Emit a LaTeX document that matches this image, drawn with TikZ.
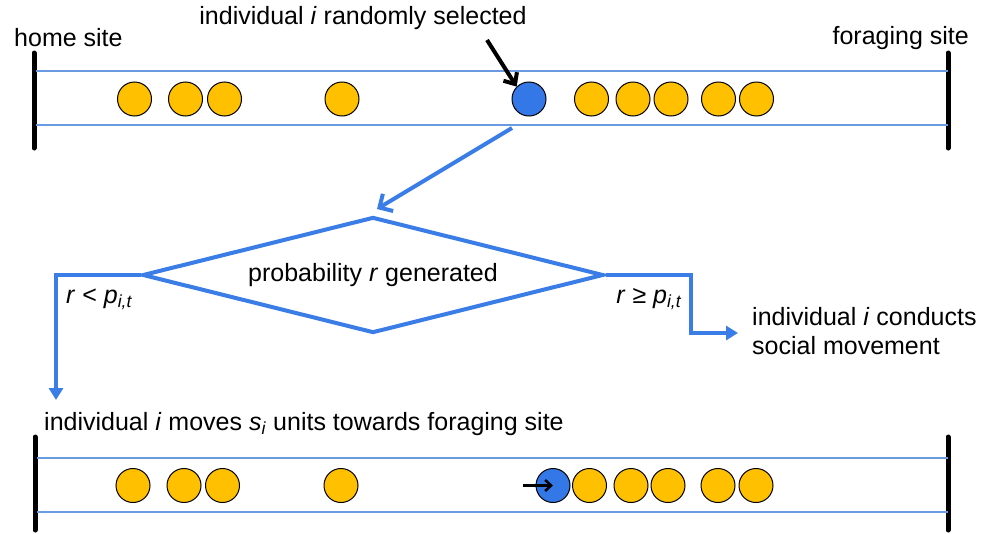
\documentclass[tikz,border=0pt]{standalone}
\usepackage{fontspec}
\setmainfont{Liberation Sans}
\usetikzlibrary{shapes.geometric,arrows.meta}
\definecolor{ylw}{HTML}{FFC000}
\definecolor{bluefill}{HTML}{3478E8}
\definecolor{lineblue}{HTML}{6A9BE0}
\definecolor{flowblue}{HTML}{3A7DE6}
\begin{document}
\begin{tikzpicture}[x=1pt,y=-1pt,
  every node/.style={font=\fontsize{25}{29}\selectfont},
  agent/.style={circle,draw=black,line width=1pt,fill=ylw,minimum size=34pt,inner sep=0},
  chosen/.style={agent,fill=bluefill},
  sitebar/.style={line width=5pt,line cap=round},
  lane/.style={draw=lineblue,line width=1.5pt},
  flow/.style={draw=flowblue,line width=4pt,line join=miter},
  txt/.style={inner sep=0}]
\useasboundingbox (0,0) rectangle (993,533);
% ---------- top lane ----------
\draw[sitebar] (34,53) -- (34,148);
\draw[sitebar] (948,53) -- (948,148);
\draw[lane] (36,71) -- (948,71);
\draw[lane] (36,125) -- (948,125);
\node[agent] (t1) at (134.5,99) {};
\node[agent] (t2) at (185.5,99) {};
\node[agent] (t3) at (224.5,99) {};
\node[agent] (t4) at (342,99) {};
\node[chosen] (tb) at (529,99) {};
\node[agent] (t5) at (591.5,99) {};
\node[agent] (t6) at (633,99) {};
\node[agent] (t7) at (671,99) {};
\node[agent] (t8) at (718.5,99) {};
\node[agent] (t9) at (756.5,99) {};
\node[txt,anchor=west] (home) at (14,38) {home site};
\node[txt,anchor=east] (forage) at (969,38) {foraging site};
\node[txt] (title) at (363,18) {individual \textit{i} randomly selected};
\coordinate (selstart) at (487,40);
\draw[line width=4pt,-{Straight Barb[length=9pt,width=16pt]}] (selstart) -- (tb.north west);
% ---------- decision ----------
\node[diamond,flow,aspect=4,minimum width=461pt,minimum height=116pt,inner sep=0] (dec) at (373,275) {probability \textit{r} generated};
\coordinate (fromsel) at (512,128);
\draw[flow,-{Straight Barb[length=10pt,width=20pt]}] (fromsel) -- ([shift={(4,-6)}]dec.north);
\coordinate (lcorner) at (56,275);
\coordinate (lend) at (56,400);
\draw[flow,-{Triangle[length=12pt,width=14pt]}] (dec.west) -- (lcorner) -- (lend);
\node[txt,anchor=west] (lowlab) at (66,299) {\textit{r} < \textit{p}\textsubscript{\textit{i,t}}};
\coordinate (rcorner) at (691,275);
\coordinate (rdown) at (691,333);
\node[txt,anchor=west,align=left] (soc) at (752,331) {individual \textit{i} conducts\\social movement};
\draw[flow,-{Triangle[length=12pt,width=14pt]}] (dec.east) -- (rcorner) -- (rdown) -- ([xshift=-14pt]soc.west |- rdown);
\node[txt,anchor=east] (highlab) at (682,299) {\textit{r} ≥ \textit{p}\textsubscript{\textit{i,t}}};
% ---------- bottom lane ----------
\node[txt,anchor=west] (moves) at (44,424) {individual \textit{i} moves \textit{s}\textsubscript{\textit{i}} units towards foraging site};
\draw[sitebar] (35,437) -- (35,530);
\draw[sitebar] (948,437) -- (948,530);
\draw[lane] (37,458) -- (948,458);
\draw[lane] (37,512) -- (948,512);
\node[agent] (b1) at (133,485.5) {};
\node[agent] (b2) at (184,485.5) {};
\node[agent] (b3) at (222.5,485.5) {};
\node[agent] (b4) at (341,485.5) {};
\node[chosen] (bb) at (553,485.5) {};
\node[agent] (b5) at (589.5,485.5) {};
\node[agent] (b6) at (631,485.5) {};
\node[agent] (b7) at (668,485.5) {};
\node[agent] (b8) at (718,485.5) {};
\node[agent] (b9) at (756,485.5) {};
\coordinate (mvstart) at (523,485.5);
\draw[line width=2.5pt,-{Straight Barb[length=6pt,width=11pt]}] (mvstart) -- (bb.center);
\end{tikzpicture}
\end{document}
